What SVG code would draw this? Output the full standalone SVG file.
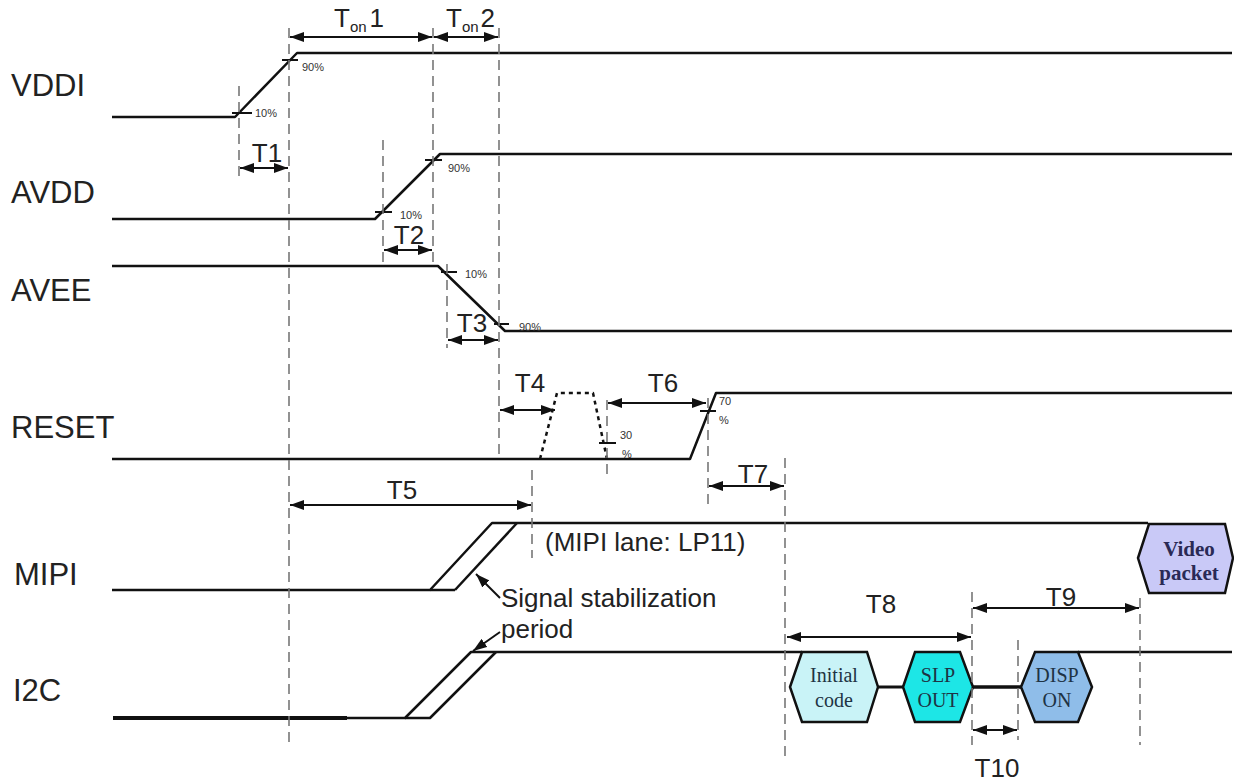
<svg xmlns="http://www.w3.org/2000/svg" width="1234" height="783" viewBox="0 0 1234 783">
<style>
.sig{fill:none;stroke:#111;stroke-width:2.5;stroke-linejoin:round}
.tick{stroke:#111;stroke-width:2}
.dash{fill:none;stroke:#777;stroke-width:1.6;stroke-dasharray:10 6}
.dim{fill:none;stroke:#111;stroke-width:2;marker-start:url(#ah);marker-end:url(#ah)}
.lbl{font-family:"Liberation Sans",Arial,sans-serif;font-size:31px;fill:#222}
.tl{font-family:"Liberation Sans",Arial,sans-serif;font-size:26px;fill:#222}
.pc{font-family:"Liberation Sans",Arial,sans-serif;font-size:11px;fill:#333}
.note{font-family:"Liberation Sans",Arial,sans-serif;font-size:26px;fill:#222}
.hx{stroke:#111;stroke-width:2.5}
.ht{font-family:"Liberation Serif","Times New Roman",serif;font-size:20px;fill:#1e3344;text-anchor:middle}
.vt{font-family:"Liberation Serif","Times New Roman",serif;font-size:21px;font-weight:bold;fill:#2a2a55;text-anchor:middle}
</style>
<defs>
<marker id="ah" markerUnits="userSpaceOnUse" markerWidth="16" markerHeight="10" refX="14" refY="5" orient="auto-start-reverse">
<path d="M0,0 L14,5 L0,10 z" fill="#111"/>
</marker>
</defs>
<rect width="1234" height="783" fill="#fff"/>

<g id="labels">
<text class="lbl" x="11" y="96">VDDI</text>
<text class="lbl" x="11" y="203">AVDD</text>
<text class="lbl" x="11" y="301">AVEE</text>
<text class="lbl" x="11" y="438">RESET</text>
<text class="lbl" x="14" y="585">MIPI</text>
<text class="lbl" x="13" y="701">I2C</text>
</g>

<g id="vddi">
<polyline class="sig" points="112,117 235,117 297,53 1232,53"/>
<line class="tick" x1="232" y1="113" x2="252" y2="113"/>
<line class="tick" x1="282" y1="60" x2="298" y2="60"/>
<text class="pc" x="255" y="117">10%</text>
<text class="pc" x="302" y="71">90%</text>
</g>

<g id="avdd">
<polyline class="sig" points="112,219 375,219 440,154 1232,154"/>
<line class="tick" x1="375" y1="212" x2="392" y2="212"/>
<line class="tick" x1="425" y1="160" x2="442" y2="160"/>
<text class="pc" x="400" y="219">10%</text>
<text class="pc" x="448" y="172">90%</text>
</g>

<g id="avee">
<polyline class="sig" points="112,266 438,266 505,331 1232,331"/>
<line class="tick" x1="441" y1="272" x2="457" y2="272"/>
<line class="tick" x1="494" y1="324" x2="509" y2="324"/>
<text class="pc" x="465" y="278">10%</text>
<text class="pc" x="519" y="331">90%</text>
</g>

<g id="reset">
<polyline class="sig" points="112,459 690,459 716,393 1232,393"/>
<polyline class="sig" points="540,459 557,393 593,393 607,459" stroke-dasharray="4 4"/>
<line class="tick" x1="599" y1="443" x2="616" y2="443"/>
<line class="tick" x1="700" y1="411" x2="716" y2="411"/>
<text class="pc" x="620" y="439">30</text>
<text class="pc" x="622" y="458">%</text>
<text class="pc" x="719" y="405">70</text>
<text class="pc" x="719" y="424">%</text>
</g>

<g id="mipi">
<polyline class="sig" points="112,590 430,590 492,523 1148,523"/>
<polyline class="sig" points="455,590 517,523"/>
<line class="sig" x1="430" y1="590" x2="455" y2="590"/>
<text class="note" x="545" y="551">(MIPI lane: LP11)</text>
</g>

<g id="i2c">
<line x1="113" y1="718" x2="347" y2="718" stroke="#111" stroke-width="4"/>
<polyline class="sig" points="347,718 405,718 471,652 802,652"/>
<polyline class="sig" points="405,718 430,718 496,652"/>
<line class="sig" x1="1078" y1="652" x2="1232" y2="652"/>
<line x1="878" y1="687" x2="903" y2="687" stroke="#111" stroke-width="3"/>
<line x1="973" y1="687" x2="1021" y2="687" stroke="#111" stroke-width="3.5"/>
</g>

<g id="note-stab">
<text class="note" x="501" y="607">Signal stabilization</text>
<text class="note" x="501" y="638">period</text>
</g>

<g id="node-initial">
<polygon class="hx" fill="#c9f3f7" points="790,687 802,652 867,652 878,687 867,722 802,722"/>
<text class="ht" x="834" y="682">Initial</text>
<text class="ht" x="834" y="707">code</text>
</g>
<g id="node-slpout">
<polygon class="hx" fill="#1de6e6" points="903,687 915,652 960,652 973,687 960,722 915,722"/>
<text class="ht" x="938" y="682">SLP</text>
<text class="ht" x="938" y="707">OUT</text>
</g>
<g id="node-dispon">
<polygon class="hx" fill="#8fbde9" points="1021,687 1035,652 1078,652 1092,687 1078,722 1035,722"/>
<text class="ht" x="1057" y="682">DISP</text>
<text class="ht" x="1057" y="707">ON</text>
</g>
<g id="node-video">
<polygon class="hx" fill="#c9c9f7" points="1138,558 1149,524 1225,524 1233,558 1225,593 1149,593"/>
<text class="vt" x="1189" y="556">Video</text>
<text class="vt" x="1189" y="580">packet</text>
</g>

<g id="connectors">
<line class="dash" x1="239" y1="86" x2="239" y2="176"/>
<line class="dash" x1="289" y1="28" x2="289" y2="742"/>
<line class="dash" x1="433" y1="28" x2="433" y2="262"/>
<line class="dash" x1="499" y1="28" x2="499" y2="460"/>
<line class="dash" x1="383" y1="140" x2="383" y2="262"/>
<line class="dash" x1="447" y1="264" x2="447" y2="348"/>
<line class="dash" x1="532" y1="470" x2="532" y2="558"/>
<line class="dash" x1="607" y1="400" x2="607" y2="478"/>
<line class="dash" x1="708" y1="398" x2="708" y2="510"/>
<line class="dash" x1="785" y1="458" x2="785" y2="760"/>
<line class="dash" x1="972" y1="592" x2="972" y2="745"/>
<line class="dash" x1="1018" y1="640" x2="1018" y2="740"/>
<line class="dash" x1="1140" y1="598" x2="1140" y2="745"/>

<line class="dim" x1="290" y1="37" x2="432" y2="37"/>
<line class="dim" x1="434" y1="37" x2="498" y2="37"/>
<line class="dim" x1="240" y1="168" x2="288" y2="168"/>
<line class="dim" x1="384" y1="250" x2="432" y2="250"/>
<line class="dim" x1="448" y1="340" x2="498" y2="340"/>
<line class="dim" x1="500" y1="410" x2="555" y2="410"/>
<line class="dim" x1="608" y1="403" x2="706" y2="403"/>
<line class="dim" x1="290" y1="505" x2="531" y2="505"/>
<line class="dim" x1="709" y1="486" x2="784" y2="486"/>
<line class="dim" x1="787" y1="637" x2="971" y2="637"/>
<line class="dim" x1="973" y1="608" x2="1139" y2="608"/>
<line class="dim" x1="973" y1="730" x2="1017" y2="730"/>

<line x1="500" y1="598" x2="476" y2="574" stroke="#111" stroke-width="2" marker-end="url(#ah)"/>
<line x1="500" y1="632" x2="473" y2="651" stroke="#111" stroke-width="2" marker-end="url(#ah)"/>
</g>

<g id="dim-labels">
<text class="tl" x="334" y="27" font-size="22">T<tspan font-size="15" dy="5">on</tspan><tspan dx="3" dy="-5">1</tspan></text>
<text class="tl" x="446" y="27" font-size="22">T<tspan font-size="15" dy="5">on</tspan><tspan dx="2" dy="-5">2</tspan></text>
<text class="tl" x="267" y="162" text-anchor="middle">T1</text>
<text class="tl" x="409" y="244" text-anchor="middle">T2</text>
<text class="tl" x="472" y="332" text-anchor="middle">T3</text>
<text class="tl" x="530" y="392" text-anchor="middle">T4</text>
<text class="tl" x="663" y="392" text-anchor="middle">T6</text>
<text class="tl" x="402" y="499" text-anchor="middle">T5</text>
<text class="tl" x="753" y="483" text-anchor="middle">T7</text>
<text class="tl" x="881" y="613" text-anchor="middle">T8</text>
<text class="tl" x="1061" y="606" text-anchor="middle">T9</text>
<text class="tl" x="997" y="777" text-anchor="middle">T10</text>
</g>
</svg>
